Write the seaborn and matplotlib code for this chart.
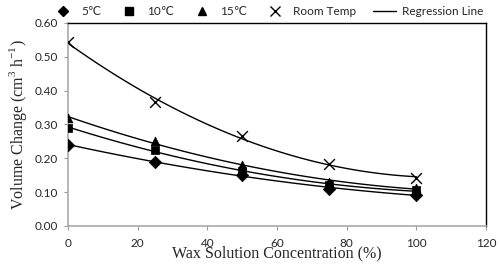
import numpy as np
import pandas as pd
import matplotlib
matplotlib.use('Agg')
import matplotlib.pyplot as plt
from matplotlib.lines import Line2D
import seaborn as sns

conc = [0, 25, 50, 75, 100]
temp_5 = [0.24, 0.19, 0.15, 0.11, 0.092]
temp_10 = [0.29, 0.225, 0.163, 0.12, 0.105]
temp_15 = [0.32, 0.25, 0.18, 0.13, 0.112]
room_temp = [0.545, 0.365, 0.265, 0.183, 0.143]
series_names = ['5\u2103', '10\u2103', '15\u2103', 'Room Temp']
series_markers = ['D', 's', '^', 'x']

sns.set_style('white')
plt.rcParams['font.family'] = ['Lato', 'DejaVu Sans']
plt.rcParams['mathtext.fontset'] = 'custom'
plt.rcParams['mathtext.rm'] = 'Liberation Serif'

rows = []
for name, vals in zip(series_names, [temp_5, temp_10, temp_15, room_temp]):
    for c, v in zip(conc, vals):
        rows.append({'Concentration': c, 'Volume': v, 'Series': name})
df = pd.DataFrame(rows)

# quadratic regression curves fitted to each series
fit_rows = []
xs = np.linspace(0, 100, 101)
for name, vals in zip(series_names, [temp_5, temp_10, temp_15, room_temp]):
    coef = np.polyfit(conc, vals, 2)
    for x in xs:
        fit_rows.append({'Concentration': x, 'Volume': np.polyval(coef, x), 'Series': name})
fit_df = pd.DataFrame(fit_rows)

fig = plt.figure(figsize=(5, 2.64), dpi=100)
ax = fig.add_axes([0.136, 0.144, 0.836, 0.769])

sns.lineplot(data=fit_df, x='Concentration', y='Volume', units='Series', estimator=None,
             color='black', lw=1.0, ax=ax, legend=False)

for name, m in zip(series_names, series_markers):
    sub = df[df['Series'] == name]
    if m == 'x':
        sns.scatterplot(data=sub, x='Concentration', y='Volume', marker='x', s=60,
                        color='black', linewidth=1.0, ax=ax, legend=False, zorder=5)
    else:
        sns.scatterplot(data=sub, x='Concentration', y='Volume', marker=m, s=40,
                        color='black', edgecolor='black', ax=ax, legend=False, zorder=5)

ax.set_xlim(0, 120)
ax.set_ylim(0, 0.6)
ax.set_xticks(range(0, 121, 20))
ax.set_yticks(np.arange(0, 0.61, 0.1))
ax.set_yticklabels([f'{v:.2f}' for v in np.arange(0, 0.61, 0.1)])
ax.tick_params(axis='both', labelsize=8.5, length=3, color='#999999', direction='out',
               left=True, bottom=True, pad=4)
ax.tick_params(axis='x', pad=6)

for side in ['top', 'right']:
    ax.spines[side].set_color('black')
    ax.spines[side].set_linewidth(1.0)
for side in ['left', 'bottom']:
    ax.spines[side].set_color('#aaaaaa')
    ax.spines[side].set_linewidth(1.2)

ax.set_xlabel('Wax Solution Concentration (%)', family=['Liberation Serif'], fontsize=11.5,
              labelpad=-3)
ax.set_ylabel('Volume Change (cm$^{3}$ h$^{-1}$)', family=['Liberation Serif'], fontsize=11.5,
              labelpad=4)

handles = [
    Line2D([], [], marker='D', color='black', ls='', markersize=5),
    Line2D([], [], marker='s', color='black', ls='', markersize=6),
    Line2D([], [], marker='^', color='black', ls='', markersize=6),
    Line2D([], [], marker='x', color='black', ls='', markersize=7, mew=1),
    Line2D([], [], color='black', lw=1.0),
]
labels = series_names + ['Regression Line']
fig.legend(handles, labels, loc='center', bbox_to_anchor=(0.535, 0.955), ncol=5,
           frameon=False, fontsize=8.5, handlelength=2.0, handletextpad=0.5,
           columnspacing=1.4, borderaxespad=0)

fig.savefig('out.png', dpi=100)
